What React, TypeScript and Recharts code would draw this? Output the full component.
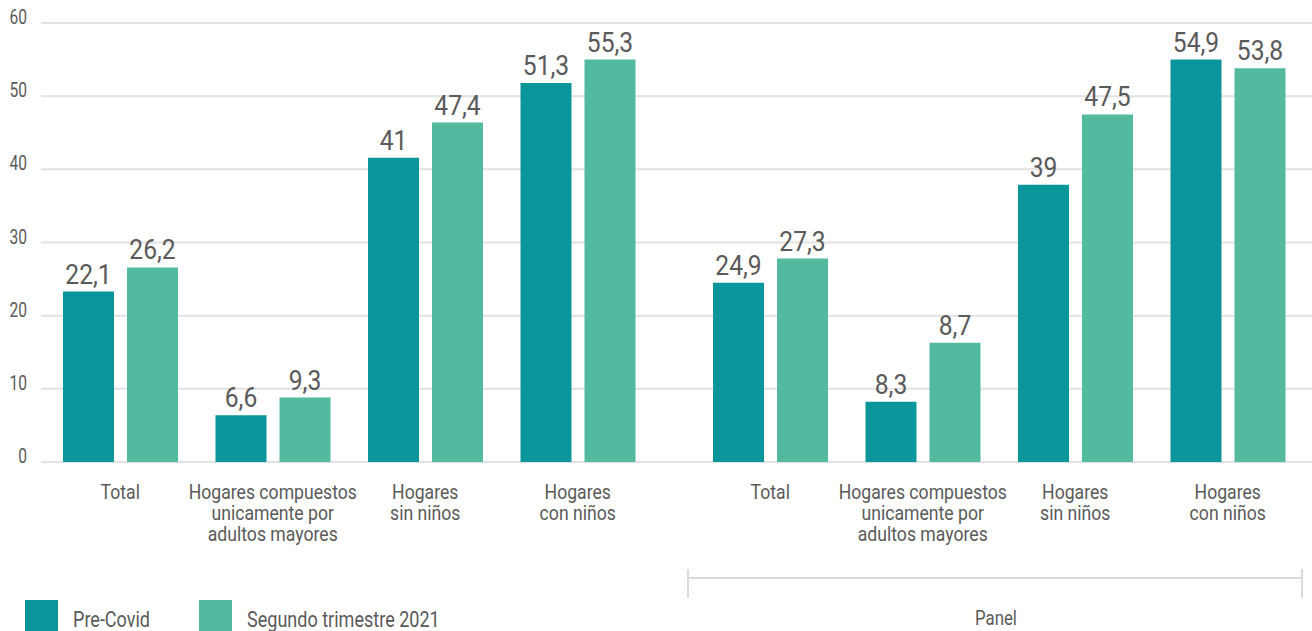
import { BarChart, Bar, XAxis, YAxis, CartesianGrid, LabelList } from 'recharts'

const FONT = "Roboto, 'Noto Sans', sans-serif"
const TEXT = '#5a5a5a'
const PRE = '#0a969a'
const SEG = '#53b99f'
const GRID = '#e2e2e2'

const categories = [
  'Total',
  'Hogares compuestos\nunicamente por\nadultos mayores',
  'Hogares\nsin niños',
  'Hogares\ncon niños',
]

// bar heights as drawn in the picture
const leftPre = [23.3, 6.4, 41.6, 51.8]
const leftSeg = [26.6, 8.8, 46.4, 55.0]
const rightPre = [24.5, 8.25, 37.9, 55.0]
const rightSeg = [27.8, 16.3, 47.5, 53.8]

// printed value labels
const leftPreLabels = ['22,1', '6,6', '41', '51,3']
const leftSegLabels = ['26,2', '9,3', '47,4', '55,3']
const rightPreLabels = ['24,9', '8,3', '39', '54,9']
const rightSegLabels = ['27,3', '8,7', '47,5', '53,8']

const yTicks = [0, 10, 20, 30, 40, 50, 60]

const legendItems = [
  { name: 'Pre-Covid', color: PRE },
  { name: 'Segundo trimestre 2021', color: SEG },
]

const build = (pre: number[], seg: number[], preL: string[], segL: string[]) =>
  categories.map((name, i) => ({
    name,
    pre: pre[i],
    seg: seg[i],
    preLabel: preL[i],
    segLabel: segL[i],
  }))

const leftData = build(leftPre, leftSeg, leftPreLabels, leftSegLabels)
const rightData = build(rightPre, rightSeg, rightPreLabels, rightSegLabels)

// the source font is a narrow DIN, so squeeze Roboto horizontally
const Narrow = ({ x, y, sx, size, anchor = 'middle', children }: any) => (
  <g transform={`translate(${x},${y}) scale(${sx},1)`}>
    <text x={0} y={0} textAnchor={anchor} fill={TEXT} fontSize={size} fontFamily={FONT}>
      {children}
    </text>
  </g>
)

const CategoryTick = (props: any) => {
  const { x, y, payload } = props
  const lines = String(payload.value).split('\n')
  return (
    <g transform={`translate(${x},${y + 37}) scale(0.84,1)`}>
      <text x={0} y={0} textAnchor="middle" fill={TEXT} fontSize={21} fontFamily={FONT}>
        {lines.map((l, i) => (
          <tspan key={i} x={0} dy={i === 0 ? 0 : 21}>
            {l}
          </tspan>
        ))}
      </text>
    </g>
  )
}

const ValueTick = (props: any) => {
  const { x, y, payload } = props
  return (
    <Narrow x={x} y={y + 1} sx={0.78} size={20} anchor="end">
      {payload.value}
    </Narrow>
  )
}

const BarLabel = (props: any) => {
  const { x, y, width, value } = props
  return (
    <Narrow x={x + width / 2} y={y - 8} sx={0.88} size={28}>
      {value}
    </Narrow>
  )
}

function Panel({ data, showY, padding }: { data: any[]; showY: boolean; padding: { left: number; right: number } }) {
  return (
    <BarChart
      width={showY ? 654 : 658}
      height={631}
      data={data}
      margin={{ top: 23, right: 0, bottom: 0, left: 0 }}
      barSize={51}
      barGap={13}
    >
      <CartesianGrid vertical={false} stroke={GRID} strokeWidth={2} />
      <XAxis
        dataKey="name"
        axisLine={false}
        tickLine={false}
        tickSize={0}
        tickMargin={0}
        height={169}
        interval={0}
        padding={padding}
        tick={<CategoryTick />}
      />
      <YAxis
        hide={!showY}
        width={41}
        domain={[0, 60]}
        ticks={yTicks}
        axisLine={false}
        tickLine={false}
        tickSize={0}
        tickMargin={14}
        tick={<ValueTick />}
      />
      <Bar dataKey="pre" fill={PRE} isAnimationActive={false}>
        <LabelList dataKey="preLabel" content={<BarLabel />} />
      </Bar>
      <Bar dataKey="seg" fill={SEG} isAnimationActive={false}>
        <LabelList dataKey="segLabel" content={<BarLabel />} />
      </Bar>
    </BarChart>
  )
}

export default function App() {
  return (
    <div
      style={{
        position: 'absolute',
        left: 0,
        top: 0,
        width: 1312,
        height: 631,
        overflow: 'hidden',
        background: '#fff',
      }}
    >
      <div style={{ position: 'absolute', left: 0, top: 0 }}>
        <Panel data={leftData} showY={true} padding={{ left: 3, right: 0 }} />
      </div>
      <div style={{ position: 'absolute', left: 654, top: 0 }}>
        <Panel data={rightData} showY={false} padding={{ left: 40, right: 8 }} />
      </div>

      <svg style={{ position: 'absolute', left: 0, top: 0 }} width={1312} height={631}>
        <line x1={688} y1={578} x2={1302} y2={578} stroke="#dadada" strokeWidth={2} />
        <line x1={688} y1={569} x2={688} y2={598} stroke="#dadada" strokeWidth={2} />
        <line x1={1302} y1={569} x2={1302} y2={598} stroke="#dadada" strokeWidth={2} />
        <Narrow x={996} y={625} sx={0.8} size={21}>
          Panel
        </Narrow>

        {legendItems.map((item, i) => (
          <g key={item.name}>
            <rect x={25 + i * 174} y={600} width={33} height={33} fill={item.color} />
            <Narrow x={73 + i * 174} y={627} sx={0.82} size={22} anchor="start">
              {item.name}
            </Narrow>
          </g>
        ))}
      </svg>
    </div>
  )
}
